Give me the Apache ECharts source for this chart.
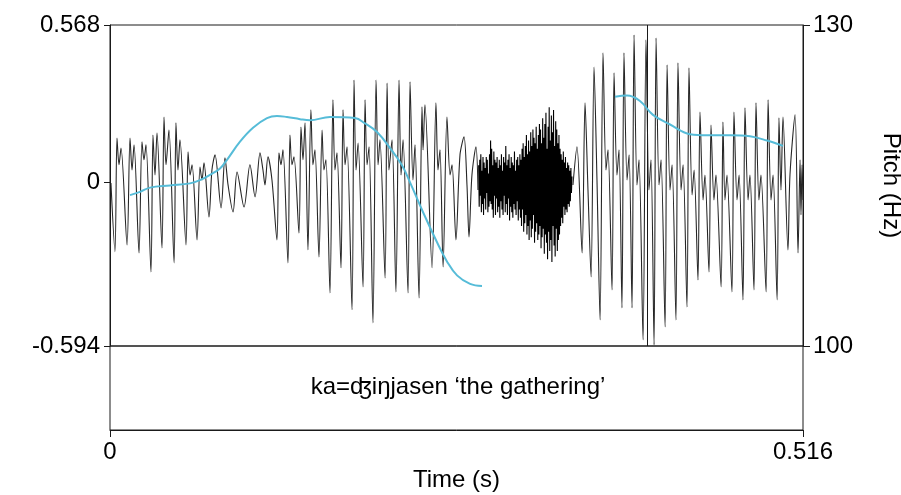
<!DOCTYPE html>
<html>
<head>
<meta charset="utf-8">
<script src="https://cdn.jsdelivr.net/npm/echarts@6/dist/echarts.min.js"></script>
<style>
  html, body { margin: 0; padding: 0; background: #fff; }
  #chart { width: 901px; height: 495px; }
</style>
</head>
<body>
<div id="chart"></div>
<script>
// Axis extents and tick labels
const timeTicks = [0, 0.516];
const ampTicks = [-0.594, 0, 0.568];
const pitchTicks = [100, 130];
const tierLabel = 'ka=ʤiŋjasen ‘the gathering’';
const cursorTime = 0.3976;

// First voiced stretch: peaks and troughs of the waveform (s, amplitude)
const wave1T = [0.0007, 0.0037, 0.0052, 0.0067, 0.0082, 0.0127, 0.0149, 0.0164, 0.0179, 0.0216,
  0.0238, 0.0253, 0.0268, 0.0305, 0.0320, 0.0335, 0.0350, 0.0387, 0.0402, 0.0417,
  0.0439, 0.0477, 0.0491, 0.0506, 0.0521, 0.0566, 0.0581, 0.0596, 0.0611, 0.0648,
  0.0670, 0.0685, 0.0700, 0.0737, 0.0759, 0.0782, 0.0827, 0.0856, 0.0879, 0.0916,
  0.0946, 0.0998, 0.1042, 0.1080, 0.1117, 0.1139, 0.1154, 0.1176, 0.1206, 0.1243,
  0.1258, 0.1273, 0.1288, 0.1325, 0.1340, 0.1355, 0.1370, 0.1407, 0.1422, 0.1437,
  0.1452, 0.1474, 0.1496, 0.1511, 0.1526, 0.1556, 0.1579, 0.1593, 0.1608, 0.1638,
  0.1660, 0.1675, 0.1690, 0.1720, 0.1735, 0.1750, 0.1765, 0.1802, 0.1817, 0.1832,
  0.1847, 0.1884, 0.1899, 0.1914, 0.1929, 0.1958, 0.1981, 0.1996, 0.2010, 0.2048,
  0.2063, 0.2077, 0.2100, 0.2129, 0.2152, 0.2167, 0.2182, 0.2219, 0.2234, 0.2256,
  0.2271, 0.2301, 0.2323, 0.2331, 0.2345, 0.2398, 0.2427, 0.2442, 0.2457, 0.2480,
  0.2509, 0.2532, 0.2547, 0.2576, 0.2606, 0.2636, 0.2658, 0.2673, 0.2695, 0.2725,
  0.2740];
const wave1A = [-0.004, -0.253, 0.159, 0.062, 0.123, -0.228, 0.159, 0.043, 0.134, -0.257,
  0.145, 0.080, 0.134, -0.326, 0.170, 0.025, 0.177, -0.239, 0.235, 0.062,
  0.188, -0.293, 0.214, 0.043, 0.152, -0.228, 0.109, 0.025, 0.062, -0.210,
  0.054, 0.007, 0.069, -0.127, 0.043, 0.098, -0.094, 0.087, -0.011, -0.109,
  0.036, -0.091, 0.062, -0.054, 0.105, 0.043, -0.011, 0.091, 0.007, -0.210,
  0.105, 0.062, 0.116, -0.293, 0.170, 0.062, 0.091, -0.185, 0.199, 0.080,
  0.214, -0.246, 0.261, 0.062, 0.116, -0.272, 0.188, 0.043, 0.080, -0.402,
  0.297, 0.043, 0.105, -0.311, 0.261, 0.062, 0.127, -0.463, 0.369, 0.043,
  0.141, -0.380, 0.297, 0.062, 0.127, -0.510, 0.369, 0.062, 0.152, -0.348,
  0.358, 0.043, 0.152, -0.398, 0.369, 0.025, 0.152, -0.402, 0.362, 0.007,
  0.134, -0.420, 0.272, 0.116, 0.279, -0.311, 0.286, 0.043, 0.116, -0.308,
  0.235, 0.025, 0.062, -0.210, 0.098, 0.163, -0.011, -0.199, 0.025, 0.127,
  -0.029];

// Fricative noise, sampled at a fixed step from noiseStart
const noiseStart = 0.2745;
const noiseStep = 0.000404;
const noiseA = [
  0.06, -0.09, 0.08, -0.05, 0.10, -0.11, 0.04, -0.08, 0.09, -0.12, 0.07, -0.06, 0.05, -0.10, 0.09, -0.04,
  0.08, -0.11, 0.03, -0.09, 0.10, -0.07,
  0.15, -0.08, 0.12, -0.10, 0.06, -0.13, 0.11, -0.05, 0.08,
  -0.12, 0.07, -0.06, 0.09, -0.11, 0.05, -0.09, 0.08, -0.13, 0.06,
  -0.07, 0.10, -0.10, 0.04, -0.12, 0.09, -0.05, 0.07, -0.11, 0.13,
  -0.08, 0.06, -0.12, 0.08, -0.06, 0.10, -0.14, 0.05, -0.09, 0.09,
  -0.11, 0.07, -0.13, 0.06, -0.08, 0.11, -0.10, 0.04, -0.12, 0.08,
  -0.07, 0.09, -0.14, 0.06, -0.10, 0.10,
  -0.13, 0.08, -0.16, 0.12, -0.10, 0.14, -0.18, 0.09, -0.15, 0.13,
  -0.12, 0.17, -0.19, 0.10, -0.16, 0.15, -0.21, 0.11, -0.14, 0.18,
  -0.20, 0.13, -0.17, 0.19, -0.12, 0.16, -0.22, 0.14, -0.18, 0.20,
  -0.15, 0.12, -0.21, 0.17, -0.19, 0.21, -0.16,
  0.19, -0.24, 0.14, -0.20, 0.23, -0.17, 0.16, -0.26, 0.21, -0.19,
  0.25, -0.22, 0.12, -0.28, 0.20, -0.18, 0.27, -0.25, 0.15, -0.21,
  0.24, -0.29, 0.18, -0.16, 0.26, -0.23, 0.13, -0.27, 0.22, -0.17,
  0.19, -0.25, 0.14, -0.21, 0.17, -0.19, 0.12,
  -0.16, 0.10, -0.13, 0.08, -0.15, 0.11, -0.09, 0.07, -0.12, 0.09,
  -0.10, 0.05, -0.11, 0.07, -0.08, 0.06, -0.09, 0.04, -0.07, 0.05, -0.04, 0.02];

// Second voiced stretch
const wave2T = [0.3447, 0.3477, 0.3515, 0.3537, 0.3559, 0.3582, 0.3604, 0.3626, 0.3649, 0.3671,
  0.3693, 0.3708, 0.3738, 0.3753, 0.3775, 0.3790, 0.3812, 0.3827, 0.3850, 0.3865,
  0.3887, 0.3902, 0.3924, 0.3939, 0.3969, 0.3991, 0.4013, 0.4028, 0.4051, 0.4066,
  0.4088, 0.4103, 0.4133, 0.4148, 0.4170, 0.4185, 0.4214, 0.4229, 0.4252, 0.4267,
  0.4296, 0.4311, 0.4334, 0.4349, 0.4378, 0.4393, 0.4416, 0.4430, 0.4460, 0.4475,
  0.4497, 0.4512, 0.4550, 0.4564, 0.4579, 0.4594, 0.4631, 0.4646, 0.4669, 0.4684,
  0.4713, 0.4728, 0.4751, 0.4765, 0.4795, 0.4810, 0.4832, 0.4847, 0.4885, 0.4900,
  0.4922, 0.4937, 0.4967, 0.4981, 0.4996, 0.5011, 0.5048, 0.5063, 0.5101, 0.5123,
  0.5138, 0.5145, 0.5153, 0.5160];
const wave2A = [-0.011, 0.127, -0.257, 0.286, -0.029, -0.344, 0.416, 0.007, -0.500, 0.467,
  0.043, 0.116, -0.391, 0.395, 0.025, 0.116, -0.456, 0.467, 0.007, 0.098,
  -0.456, 0.532, -0.011, 0.080, -0.572, 0.514, -0.029, 0.080, -0.590, 0.521,
  -0.011, 0.080, -0.525, 0.424, -0.029, 0.062, -0.500, 0.431, -0.029, 0.062,
  -0.453, 0.413, -0.047, 0.043, -0.355, 0.253, -0.065, 0.025, -0.326, 0.206,
  -0.065, 0.025, -0.380, 0.217, -0.065, 0.025, -0.398, 0.253, -0.065, 0.025,
  -0.427, 0.268, -0.065, 0.025, -0.391, 0.286, -0.065, 0.025, -0.398, 0.297,
  -0.065, 0.025, -0.427, 0.232, -0.029, 0.235, -0.246, 0.025, 0.243, -0.257,
  0.080, -0.119, 0.062, -0.065];

// Pitch track (Hz), two voiced stretches
const pitch1T = [0.0149, 0.0223, 0.0298, 0.0447, 0.0596, 0.0670, 0.0745, 0.0819, 0.0871, 0.0968,
  0.1065, 0.1169, 0.1243, 0.1318, 0.1415, 0.1489, 0.1638, 0.1824, 0.1899, 0.1988,
  0.2085, 0.2174, 0.2234, 0.2331, 0.2435, 0.2509, 0.2584, 0.2681, 0.2770];
const pitch1Hz = [114.1, 114.4, 114.8, 115.0, 115.2, 115.5, 116.0, 116.6, 117.4, 119.1,
  120.4, 121.3, 121.5, 121.4, 121.2, 121.1, 121.4, 121.3, 120.8, 120.0,
  118.5, 116.9, 115.3, 112.5, 109.7, 107.9, 106.6, 105.8, 105.6];
const pitch2T = [0.3760, 0.3850, 0.3946, 0.4043, 0.4170, 0.4319, 0.4445, 0.4617, 0.4765, 0.4892, 0.5011];
const pitch2Hz = [123.3, 123.4, 122.9, 121.6, 120.7, 119.8, 119.7, 119.7, 119.6, 119.2, 118.7];

const zip = (xs, ys) => xs.map((x, i) => [x, ys[i]]);
const noiseData = noiseA.map((a, i) => [noiseStart + i * noiseStep, a]);

const FONT = '"Liberation Sans", Arial, "DejaVu Sans", sans-serif';
const INK = '#1a1a1a';
const WAVE = '#262626';
const PITCH = '#56bcd8';

const chart = echarts.init(document.getElementById('chart'), null, { renderer: 'canvas' });

const waveSeries = (name, data, extra) => Object.assign({
  name, type: 'line', xAxisIndex: 0, yAxisIndex: 0, data,
  showSymbol: false, symbol: 'none', silent: true, smooth: 0.3,
  lineStyle: { color: WAVE, width: 1.1 }, z: 2
}, extra || {});

chart.setOption({
  animation: false,
  backgroundColor: '#ffffff',
  textStyle: { fontFamily: FONT },
  grid: [
    { left: 110, right: 98, top: 25, height: 321, show: true, borderColor: INK, borderWidth: 1,
      backgroundColor: 'transparent', outerBoundsMode: 'none', containLabel: false },
    { left: 110, right: 98, top: 346, height: 84, show: true, borderColor: INK, borderWidth: 1,
      backgroundColor: 'transparent', outerBoundsMode: 'none', containLabel: false }
  ],
  xAxis: [
    { gridIndex: 0, type: 'value', min: timeTicks[0], max: timeTicks[1],
      axisLine: { show: false }, axisTick: { show: false }, axisLabel: { show: false }, splitLine: { show: false } },
    { gridIndex: 1, type: 'value', min: timeTicks[0], max: timeTicks[1], position: 'bottom',
      axisLine: { show: true, onZero: false, lineStyle: { color: INK, width: 1 } },
      axisTick: { show: true, customValues: timeTicks, length: 7, lineStyle: { color: INK } },
      axisLabel: { customValues: timeTicks, fontSize: 24, color: '#000', margin: 10, fontFamily: FONT,
        formatter: v => String(v) },
      splitLine: { show: false },
      name: 'Time (s)', nameLocation: 'middle', nameGap: 38,
      nameTextStyle: { fontSize: 24, color: '#000', fontFamily: FONT } }
  ],
  yAxis: [
    { gridIndex: 0, type: 'value', min: ampTicks[0], max: ampTicks[2], position: 'left',
      axisLine: { show: true, onZero: false, lineStyle: { color: INK, width: 1 } },
      axisTick: { show: true, customValues: ampTicks, length: 6, lineStyle: { color: INK } },
      axisLabel: { customValues: ampTicks, fontSize: 24, color: '#000', margin: 10, fontFamily: FONT,
        formatter: v => String(v) },
      splitLine: { show: false } },
    { gridIndex: 0, type: 'value', min: pitchTicks[0], max: pitchTicks[1], position: 'right',
      axisLine: { show: true, onZero: false, lineStyle: { color: INK, width: 1 } },
      axisTick: { show: true, customValues: pitchTicks, length: 7, lineStyle: { color: INK } },
      axisLabel: { customValues: pitchTicks, fontSize: 24, color: '#000', margin: 10, fontFamily: FONT },
      splitLine: { show: false },
      name: 'Pitch (Hz)', nameLocation: 'middle', nameRotate: -90, nameGap: 76,
      nameTextStyle: { fontSize: 24, color: '#000', fontFamily: FONT } },
    { gridIndex: 1, type: 'value', min: 0, max: 1,
      axisLine: { show: false }, axisTick: { show: false }, axisLabel: { show: false }, splitLine: { show: false } }
  ],
  series: [
    waveSeries('voiced-1', zip(wave1T, wave1A)),
    waveSeries('frication', noiseData, { smooth: false, lineStyle: { color: '#000', width: 1.1 } }),
    waveSeries('voiced-2', zip(wave2T, wave2A), {
      markLine: {
        silent: true, symbol: ['none', 'none'], label: { show: false },
        lineStyle: { color: INK, width: 1, type: 'solid' },
        data: [{ xAxis: cursorTime }]
      }
    }),
    { name: 'pitch', type: 'line', xAxisIndex: 0, yAxisIndex: 1,
      data: zip(pitch1T, pitch1Hz).concat([[null, null]], zip(pitch2T, pitch2Hz)),
      connectNulls: false, smooth: 0.4, showSymbol: false, symbol: 'none', silent: true,
      lineStyle: { color: PITCH, width: 2 }, z: 5 }
  ],
  graphic: [
    { type: 'text', x: 458, y: 387, silent: true,
      style: { text: tierLabel, fontSize: 24, fontFamily: FONT, fill: '#000', align: 'center', verticalAlign: 'middle' } }
  ]
});
</script>
</body>
</html>
